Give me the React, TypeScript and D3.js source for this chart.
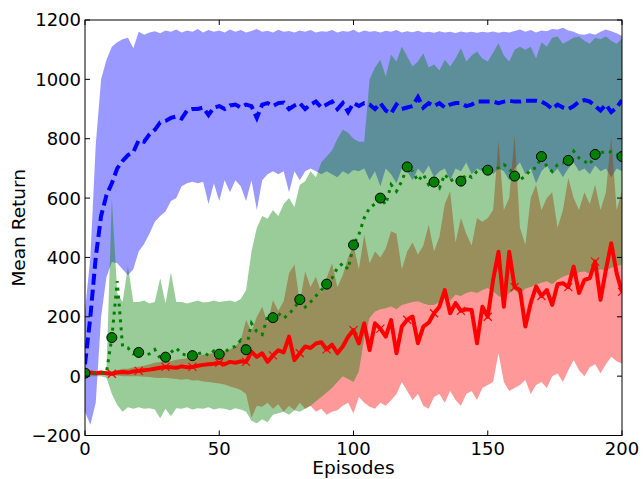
import React from "react";
import * as d3 from "d3";

// Episodes sampled every 2 steps
const episodes = d3.range(0, 201, 2);

const blueMean = [40,200,400,540,610,650,700,725,745,755,795,790,815,830,855,860,870,875,868,895,900,900,905,880,905,910,900,912,915,905,915,910,870,915,920,910,920,922,900,912,920,900,915,925,905,915,925,900,920,890,920,910,920,915,900,920,895,885,915,900,905,910,940,905,920,910,920,905,915,920,920,910,915,925,925,925,925,920,925,928,925,925,928,928,928,925,915,900,915,905,900,910,925,930,925,910,895,915,890,905,930];
const blueUpper = [220,400,780,1000,1066,1110,1125,1135,1140,1105,1160,1150,1158,1162,1155,1165,1160,1168,1158,1165,1160,1170,1158,1166,1160,1165,1158,1168,1160,1166,1158,1163,1170,1160,1164,1158,1167,1160,1163,1158,1165,1160,1166,1158,1162,1160,1166,1158,1163,1160,1167,1158,1165,1160,1163,1158,1164,1160,1166,1158,1162,1159,1164,1158,1160,1157,1162,1158,1160,1156,1161,1158,1160,1157,1160,1158,1161,1157,1160,1158,1163,1168,1160,1166,1158,1165,1162,1170,1168,1174,1165,1160,1152,1150,1155,1150,1160,1168,1162,1155,1146];
const blueLower = [-120,-164,-90,200,334,385,380,360,340,360,420,445,480,520,540,555,590,600,640,650,655,650,655,580,650,590,660,620,660,640,590,660,560,660,680,690,680,690,620,690,660,690,700,690,680,690,680,670,690,680,695,690,700,660,690,640,700,680,650,700,690,660,700,680,710,670,690,700,660,700,690,720,680,700,690,710,680,700,690,660,700,720,680,700,650,690,710,680,700,670,700,720,690,700,680,710,690,700,670,700,690];

const greenMean = [10,10,10,10,12,130,320,100,95,75,80,70,75,90,60,64,80,95,75,70,69,75,80,70,85,74,80,95,100,121,89,178,150,140,200,197,212,195,210,230,258,233,250,270,290,310,330,365,380,360,442,477,533,567,580,600,578,645,623,657,705,690,657,680,645,654,634,680,657,668,657,680,670,690,696,694,690,702,713,700,674,662,674,696,702,740,707,690,713,718,727,758,735,724,713,747,752,758,755,747,740];
const greenUpper = [12,12,12,12,20,600,280,250,370,250,250,255,245,250,330,245,350,250,250,245,250,255,248,250,255,250,252,255,250,260,290,420,500,540,530,560,540,580,600,570,645,657,690,670,720,740,760,800,830,820,800,790,790,1000,1040,1066,1010,1083,1060,1110,1077,1043,1060,1088,1040,1050,1030,1066,1043,1070,1105,1060,1080,1094,1070,1060,1090,1122,1080,1060,1100,1110,1100,1110,1070,1125,1110,1140,1144,1120,1130,1140,1144,1130,1120,1140,1135,1144,1130,1120,1138,1140];
const greenLower = [0,0,0,0,-5,-60,-97,-120,-105,-110,-105,-110,-108,-112,-142,-110,-135,-108,-110,-105,-112,-108,-110,-105,-112,-108,-110,-115,-108,-112,-120,-150,-159,-145,-155,-130,-125,-120,-130,-115,-120,-110,-100,-85,-70,-55,-40,-20,0,-10,-20,16,128,196,218,225,229,235,225,240,245,250,252,245,240,240,250,263,255,274,270,280,285,280,290,297,285,270,263,280,290,274,295,300,308,315,320,310,325,335,342,340,350,353,345,355,360,355,365,370,375];

const redMean = [10,12,10,12,10,8,12,14,12,16,18,20,22,25,28,31,30,28,33,30,31,35,38,40,42,45,40,48,45,50,48,82,65,77,48,70,87,80,133,54,77,100,95,110,114,90,106,77,100,133,155,110,178,88,178,160,133,189,77,167,190,201,111,167,180,212,234,290,212,246,220,225,223,111,234,200,324,419,234,419,300,290,167,246,302,270,290,240,310,313,300,369,280,324,330,386,257,358,448,347,284];
const redUpper = [15,18,15,18,15,15,20,25,25,30,32,35,40,45,48,52,50,55,58,60,65,68,72,75,78,83,85,90,100,121,190,150,200,234,180,256,220,252,347,376,250,353,300,335,280,331,380,300,340,400,440,360,477,380,420,400,430,488,480,360,420,450,410,440,510,420,470,580,623,450,533,480,440,533,520,533,560,792,560,600,813,500,443,600,645,560,600,620,500,560,668,600,560,620,580,645,560,620,806,560,623];
const redLower = [5,5,5,5,3,2,2,0,0,0,0,-2,-3,-5,-6,-5,-8,-10,-12,-10,-15,-14,-18,-20,-22,-25,-28,-35,-40,-47,-60,-140,-100,-103,-90,-110,-95,-120,-100,-115,-90,-110,-100,-120,-110,-130,-120,-115,-100,-90,-126,-70,-90,-103,-110,-90,-100,-81,-60,-20,-50,-80,-60,-100,-110,-70,-60,-90,-50,-80,-100,-60,-50,-80,-40,-30,-20,77,-20,-50,-40,-30,-13,-60,-30,-20,-40,0,9,-20,20,54,20,0,30,40,10,40,65,50,43];

const xTicks = [0, 50, 100, 150, 200];
const yTicks = [-200, 0, 200, 400, 600, 800, 1000, 1200];

const L = 85, R = 622, T = 20, B = 435.5;
const FONT = "DejaVu Sans, sans-serif";

export default function App() {
  const x = d3.scaleLinear().domain([0, 200]).range([L, R]);
  const y = d3.scaleLinear().domain([-200, 1200]).range([B, T]);

  const area = (lo: number[], hi: number[]) =>
    d3.area<number>()
      .x((_, i) => x(episodes[i]))
      .y0((_, i) => y(lo[i]))
      .y1((_, i) => y(hi[i]))(lo.map((v) => v)) || "";
  const line = (vals: number[]) =>
    d3.line<number>()
      .x((_, i) => x(episodes[i]))
      .y((v) => y(v))(vals) || "";

  const markIdx = episodes.map((e, i) => (e % 10 === 0 ? i : -1)).filter((i) => i >= 0);
  const fmt = (v: number) => (v < 0 ? "\u2212" + Math.abs(v) : String(v));

  return (
    <svg width={644} height={479} style={{ position: "absolute", left: 0, top: 0, background: "#fff" }}
      fontFamily={FONT}>
      <defs>
        <clipPath id="plotclip">
          <rect x={L} y={T} width={R - L} height={B - T} />
        </clipPath>
      </defs>
      <g clipPath="url(#plotclip)">
        <path d={area(blueLower, blueUpper)} fill="#0000ff" fillOpacity={0.4} />
        <path d={area(redLower, redUpper)} fill="#ff0000" fillOpacity={0.4} />
        <path d={area(greenLower, greenUpper)} fill="#008000" fillOpacity={0.4} />
        <path d={line(redMean)} fill="none" stroke="#ff0000" strokeWidth={4} strokeLinejoin="round" />
        {markIdx.map((i) => {
          const cx = x(episodes[i]), cy = y(redMean[i]), s = 4;
          return (
            <path key={"rx" + i} d={`M${cx - s},${cy - s}L${cx + s},${cy + s}M${cx - s},${cy + s}L${cx + s},${cy - s}`}
              stroke="#ff0000" strokeWidth={1.2} />
          );
        })}
        <path d={line(blueMean)} fill="none" stroke="#0000ff" strokeWidth={4} strokeDasharray="11 5" />
        <path d={line(greenMean)} fill="none" stroke="#008000" strokeWidth={3} strokeDasharray="3 5" />
        {markIdx.map((i) => (
          <circle key={"gc" + i} cx={x(episodes[i])} cy={y(greenMean[i])} r={5}
            fill="#008000" stroke="#000" strokeWidth={1} />
        ))}
      </g>
      <rect x={L} y={T} width={R - L} height={B - T} fill="none" stroke="#000" strokeWidth={1} />
      {xTicks.map((t) => (
        <g key={"xt" + t}>
          <line x1={x(t)} x2={x(t)} y1={B} y2={B - 5} stroke="#000" />
          <line x1={x(t)} x2={x(t)} y1={T} y2={T + 5} stroke="#000" />
          <text x={x(t)} y={455} fontSize={18} textAnchor="middle">{fmt(t)}</text>
        </g>
      ))}
      {yTicks.map((t) => (
        <g key={"yt" + t}>
          <line x1={L} x2={L + 5} y1={y(t)} y2={y(t)} stroke="#000" />
          <line x1={R} x2={R - 5} y1={y(t)} y2={y(t)} stroke="#000" />
          <text x={81} y={y(t)} dy="0.36em" fontSize={18} textAnchor="end">{fmt(t)}</text>
        </g>
      ))}
      <text x={(L + R) / 2} y={474} fontSize={18.5} textAnchor="middle">Episodes</text>
      <text transform={`translate(25,${(T + B) / 2}) rotate(-90)`} fontSize={18.5} textAnchor="middle">Mean Return</text>
    </svg>
  );
}
